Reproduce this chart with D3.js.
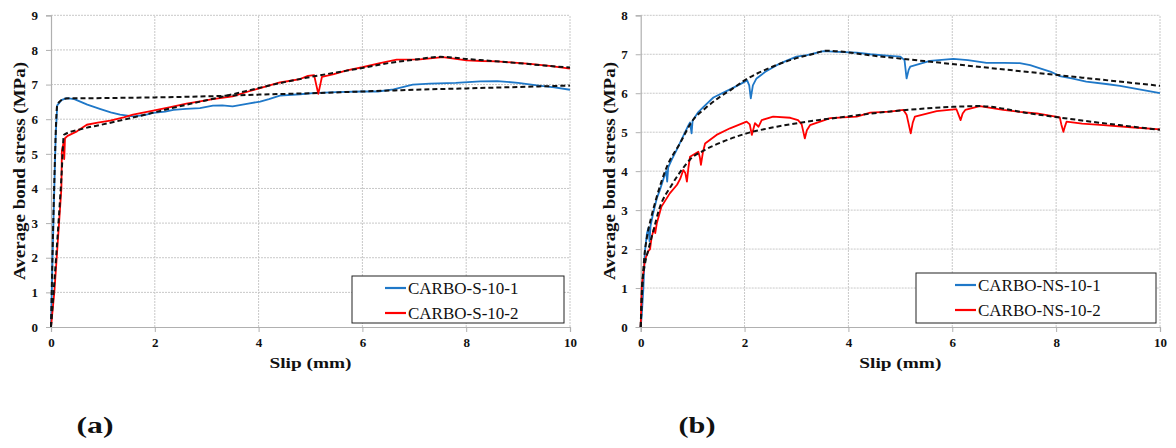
<!DOCTYPE html>
<html><head><meta charset="utf-8">
<script src="https://cdn.jsdelivr.net/npm/d3@7"></script>
<style>body{margin:0;background:#fff}svg{display:block}svg text{font-family:"Liberation Serif","Times New Roman",Tinos,Times,serif}</style>
</head><body><svg id="c" width="1176" height="448"></svg>
<script>
// ---- data ----
const xTicks = [0, 2, 4, 6, 8, 10];
const yTicksA = [0,1,2,3,4,5,6,7,8,9];
const yTicksB = [0,1,2,3,4,5,6,7,8];
const legendA = ["CARBO-S-10-1", "CARBO-S-10-2"];
const legendB = ["CARBO-NS-10-1", "CARBO-NS-10-2"];
const panelLabels = ["(a)", "(b)"];
const xTitle = "Slip (mm)";
const yTitle = "Average bond stress (MPa)";

const s10_1 = [[0,0],[0.03,2],[0.064,4],[0.09,5.5],[0.12,6.4],[0.2,6.55],[0.3,6.61],[0.45,6.58],[0.7,6.42],[0.94,6.3],[1.15,6.2],[1.33,6.13],[1.58,6.08],[1.8,6.12],[1.97,6.18],[2.2,6.22],[2.36,6.27],[2.6,6.3],[2.87,6.32],[3.12,6.39],[3.3,6.4],[3.5,6.37],[3.8,6.45],[4.03,6.51],[4.2,6.58],[4.41,6.68],[4.8,6.72],[5.05,6.75],[5.5,6.78],[6.0,6.8],[6.3,6.8],[6.6,6.86],[6.97,7.0],[7.3,7.03],[7.8,7.05],[8.27,7.09],[8.6,7.1],[9.0,7.05],[9.4,6.97],[9.7,6.92],[10,6.85]];
const s10_2 = [[0,0],[0.064,1],[0.11,2],[0.155,3],[0.2,4],[0.21,5.1],[0.24,5.3],[0.255,4.85],[0.27,5.45],[0.32,5.52],[0.5,5.65],[0.69,5.84],[0.9,5.9],[1.14,5.96],[1.4,6.05],[1.58,6.13],[1.97,6.25],[2.3,6.35],[2.61,6.45],[2.9,6.52],[3.12,6.58],[3.5,6.66],[3.8,6.8],[4.03,6.9],[4.41,7.06],[4.8,7.16],[4.95,7.25],[5.07,7.27],[5.15,6.73],[5.22,7.22],[5.45,7.3],[5.7,7.41],[6.0,7.5],[6.34,7.62],[6.66,7.72],[7.11,7.73],[7.55,7.79],[8.01,7.7],[8.3,7.68],[8.59,7.67],[9.23,7.6],[9.6,7.54],[10,7.46]];
const fitS1 = [[0,0],[0.06,4],[0.12,6.4],[0.2,6.55],[0.3,6.6],[1,6.61],[2,6.63],[3,6.66],[4,6.71],[5,6.75],[6,6.8],[7,6.85],[8,6.89],[9,6.93],[10,6.97]];
const fitS2 = [[0,0],[0.2,4.3],[0.25,5.55],[0.6,5.72],[1,5.85],[1.5,6.02],[2,6.2],[2.5,6.38],[3,6.55],[3.5,6.72],[4,6.9],[4.5,7.07],[5,7.22],[5.5,7.35],[6,7.48],[6.5,7.62],[7,7.72],[7.5,7.8],[8,7.74],[8.5,7.68],[9,7.62],[9.5,7.55],[10,7.49]];

const ns10_1 = [[0,0],[0.02,0.3],[0.05,0.95],[0.08,1.93],[0.12,2.4],[0.15,2.55],[0.17,2.2],[0.19,2.6],[0.24,2.92],[0.31,3.3],[0.37,3.52],[0.45,3.85],[0.49,4.0],[0.51,3.73],[0.53,4.1],[0.6,4.3],[0.69,4.54],[0.8,4.85],[0.92,5.18],[0.95,5.25],[0.98,4.97],[1.0,5.3],[1.1,5.5],[1.21,5.65],[1.4,5.89],[1.72,6.1],[1.9,6.22],[2.05,6.33],[2.09,6.2],[2.12,5.87],[2.16,6.2],[2.23,6.38],[2.4,6.55],[2.62,6.72],[2.8,6.83],[3.0,6.94],[3.2,6.98],[3.52,7.08],[3.8,7.06],[4.16,7.04],[4.42,7.0],[4.8,6.96],[5.0,6.94],[5.08,6.85],[5.12,6.38],[5.16,6.6],[5.19,6.68],[5.57,6.83],[6.02,6.88],[6.3,6.85],[6.66,6.78],[7.0,6.78],[7.3,6.77],[7.5,6.72],[7.69,6.64],[7.9,6.55],[8.07,6.44],[8.3,6.38],[8.58,6.3],[9.0,6.23],[9.23,6.19],[9.6,6.1],[10,6.0]];
const ns10_2 = [[0,0],[0.01,0.5],[0.02,1.03],[0.08,1.72],[0.15,1.95],[0.18,2.0],[0.21,2.3],[0.26,2.55],[0.28,2.41],[0.31,2.66],[0.4,3.09],[0.56,3.43],[0.7,3.65],[0.76,3.8],[0.82,4.03],[0.86,3.95],[0.89,3.73],[0.92,4.1],[0.95,4.37],[1.11,4.5],[1.14,4.35],[1.16,4.16],[1.2,4.5],[1.24,4.71],[1.46,4.93],[1.72,5.1],[2.04,5.27],[2.1,5.2],[2.14,4.93],[2.2,5.23],[2.27,5.14],[2.33,5.31],[2.55,5.4],[2.88,5.37],[3.03,5.31],[3.1,5.2],[3.16,4.84],[3.2,5.05],[3.26,5.18],[3.65,5.36],[4.16,5.4],[4.42,5.5],[4.8,5.53],[5.06,5.57],[5.12,5.45],[5.2,4.97],[5.24,5.25],[5.28,5.4],[5.7,5.54],[6.08,5.59],[6.12,5.45],[6.16,5.31],[6.2,5.48],[6.25,5.57],[6.53,5.67],[6.98,5.57],[7.3,5.52],[7.63,5.48],[8.07,5.38],[8.1,5.2],[8.14,5.01],[8.17,5.15],[8.2,5.27],[8.5,5.22],[8.91,5.18],[9.5,5.12],[10,5.07]];
const fitNS1 = [[0,0],[0.03,1.0],[0.07,1.8],[0.12,2.3],[0.2,2.8],[0.3,3.3],[0.5,4.1],[0.75,4.7],[1.0,5.3],[1.25,5.62],[1.5,5.88],[1.75,6.1],[2.0,6.33],[2.5,6.66],[3.0,6.9],[3.3,7.0],[3.58,7.09],[4.5,6.96],[5.5,6.82],[6.5,6.68],[7.5,6.54],[8.5,6.4],[10,6.19]];
const fitNS2 = [[0,0],[0.03,1.1],[0.08,1.6],[0.15,2.0],[0.25,2.5],[0.35,3.0],[0.6,3.65],[0.8,4.05],[0.95,4.3],[1.2,4.52],[1.59,4.76],[2.04,4.97],[2.62,5.14],[3.2,5.27],[3.84,5.38],[4.8,5.53],[5.5,5.61],[6.0,5.65],[6.53,5.67],[7.5,5.48],[8.5,5.3],[10,5.06]];

// ---- drawing ----
const svg = d3.select("#c");
svg.append("rect").attr("width",1176).attr("height",448).attr("fill","#fff");
const BLUE = "#1f78c8", RED = "#ff0000";

function panel(cfg) {
  const x = d3.scaleLinear().domain([0,10]).range([cfg.left, cfg.right]);
  const y = d3.scaleLinear().domain([0,cfg.yMax]).range([327, 15.3]);
  const g = svg.append("g");
  // grid
  g.append("g").selectAll("line").data(cfg.yTicks.filter(d=>d>0)).join("line")
    .attr("x1", cfg.left).attr("x2", cfg.right).attr("y1", d=>y(d)).attr("y2", d=>y(d))
    .attr("stroke","#c8c8c8").attr("stroke-width",1).attr("stroke-dasharray","2,1");
  g.append("g").selectAll("line").data(xTicks.filter(d=>d>0)).join("line")
    .attr("x1", d=>x(d)).attr("x2", d=>x(d)).attr("y1", y(0)).attr("y2", y(cfg.yMax))
    .attr("stroke","#c8c8c8").attr("stroke-width",1).attr("stroke-dasharray","2,1");
  // axes
  const ax = g.append("g").attr("transform",`translate(0,${y(0)})`)
    .call(d3.axisBottom(x).tickValues(xTicks).tickSize(5).tickPadding(6).tickFormat(d3.format("d")));
  const ay = g.append("g").attr("transform",`translate(${x(0)},0)`)
    .call(d3.axisLeft(y).tickValues(cfg.yTicks).tickSize(5).tickPadding(8).tickFormat(d3.format("d")));
  [ax, ay].forEach(a => {
    a.attr("font-family", null);
    a.select(".domain").attr("stroke","#b0b0b0").attr("stroke-width",1.2);
    a.selectAll(".tick line").attr("stroke","#b0b0b0");
    a.selectAll(".tick text").attr("fill","#111")
      .style("font-weight","bold").style("font-size","13px");
  });
  // lines
  const line = d3.line().x(d=>x(d[0])).y(d=>y(d[1]));
  const smooth = d3.line().x(d=>x(d[0])).y(d=>y(d[1])).curve(d3.curveMonotoneX);
  cfg.series.forEach((s,i) => {
    g.append("path").attr("d", line(s)).attr("fill","none")
      .attr("stroke", i===0?BLUE:RED).attr("stroke-width",1.8).attr("stroke-linejoin","round");
  });
  cfg.fits.forEach(s => {
    g.append("path").attr("d", smooth(s)).attr("fill","none")
      .attr("stroke","#111").attr("stroke-width",2).attr("stroke-dasharray","5,3");
  });
  // titles
  g.append("text").attr("x", (cfg.left+cfg.right)/2).attr("y", 368).attr("text-anchor","middle")
    .style("font-weight","bold").style("font-size","15px")
    .attr("textLength",82).attr("lengthAdjust","spacingAndGlyphs").attr("fill","#111").text(xTitle);
  g.append("text").attr("transform",`translate(${cfg.left-26},171) rotate(-90)`).attr("text-anchor","middle")
    .style("font-weight","bold").style("font-size","17px")
    .attr("textLength",218).attr("lengthAdjust","spacingAndGlyphs").attr("fill","#111").text(yTitle);
  // legend
  const L = cfg.legend;
  g.append("rect").attr("x",L.x).attr("y",L.y).attr("width",L.w).attr("height",L.h)
    .attr("fill","#fff").attr("stroke","#222").attr("stroke-width",1);
  cfg.legendNames.forEach((n,i) => {
    const cy = L.y + 12 + i*25;
    g.append("line").attr("x1",L.lx).attr("x2",L.lx+21).attr("y1",cy).attr("y2",cy)
      .attr("stroke", i===0?BLUE:RED).attr("stroke-width",2.2);
    g.append("text").attr("x",L.lx+23).attr("y",cy+6)
      .style("font-size","17px").attr("fill","#111").text(n);
  });
  // panel label
  g.append("text").attr("x",cfg.labelX).attr("y",433).attr("text-anchor","middle")
    .style("font-weight","bold").style("font-size","23px")
    .attr("textLength",37).attr("lengthAdjust","spacingAndGlyphs").attr("fill","#111").text(cfg.label);
}

panel({left:51, right:570, yMax:9, yTicks:yTicksA, series:[s10_1,s10_2], fits:[fitS1,fitS2],
  legend:{x:352, y:276, w:212, h:47, lx:385}, legendNames:legendA, label:panelLabels[0], labelX:95});
panel({left:640.7, right:1160, yMax:8, yTicks:yTicksB, series:[ns10_1,ns10_2], fits:[fitNS1,fitNS2],
  legend:{x:916, y:273, w:240, h:50, lx:955}, legendNames:legendB, label:panelLabels[1], labelX:697});
</script></body></html>
